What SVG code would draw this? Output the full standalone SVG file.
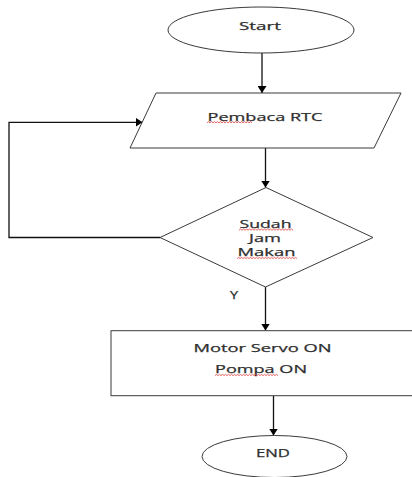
<svg xmlns="http://www.w3.org/2000/svg" width="412" height="477" viewBox="0 0 412 477">
<defs>
<marker id="arr" markerUnits="userSpaceOnUse" markerWidth="7" markerHeight="9" viewBox="0 0 7 9" refX="7" refY="4.5" orient="auto">
<path d="M0,0 L7,4.5 L0,9 z" fill="#000"/>
</marker>
<style>
.shape{fill:#fff;stroke:#3a3a3a;stroke-width:1}
.conn{fill:none;stroke:#111;stroke-width:1.3}
.lbl{font-family:"Open Sans","Liberation Sans",sans-serif;font-size:11.5px;fill:#2e2e2e;stroke:#2e2e2e;stroke-width:0.25;text-anchor:middle}
.wave{fill:none;stroke:#e03a3a;stroke-width:0.8}
</style>
</defs>
<rect width="412" height="477" fill="#fff"/>

<g id="connectors">
<line class="conn" x1="262" y1="53" x2="262" y2="93" marker-end="url(#arr)"/>
<line class="conn" x1="265.5" y1="148" x2="265.5" y2="187.5" marker-end="url(#arr)"/>
<polyline class="conn" points="160,237.5 9,237.5 9,122.3 142.5,122.3" marker-end="url(#arr)"/>
<line class="conn" x1="265.5" y1="287" x2="265.5" y2="330.5" marker-end="url(#arr)"/>
<line class="conn" x1="273.5" y1="396" x2="273.5" y2="435.5" marker-end="url(#arr)"/>
</g>

<g id="start">
<ellipse class="shape" cx="261" cy="30" rx="93" ry="23"/>
<text class="lbl" x="260" y="30" textLength="42" lengthAdjust="spacingAndGlyphs">Start</text>
</g>

<g id="pembaca">
<polygon class="shape" points="156,93 401,93 374,148 130,148"/>
<text class="lbl" x="265" y="120.5" textLength="115" lengthAdjust="spacingAndGlyphs">Pembaca RTC</text>
<path class="wave" d="M207,122.8 l1.5,-1.2l1.5,1.2l1.5,-1.2l1.5,1.2l1.5,-1.2l1.5,1.2l1.5,-1.2l1.5,1.2l1.5,-1.2l1.5,1.2l1.5,-1.2l1.5,1.2l1.5,-1.2l1.5,1.2l1.5,-1.2l1.5,1.2l1.5,-1.2l1.5,1.2l1.5,-1.2l1.5,1.2l1.5,-1.2l1.5,1.2l1.5,-1.2l1.5,1.2l1.5,-1.2l1.5,1.2l1.5,-1.2l1.5,1.2l1.5,-1.2l1.5,1.2"/>
</g>

<g id="decision">
<polygon class="shape" points="266,187.5 373,237.5 265.5,287 160,237.5"/>
<text class="lbl" x="265.5" y="227.5" textLength="52" lengthAdjust="spacingAndGlyphs">Sudah</text>
<path class="wave" d="M239,230.2 l1.5,-1.2l1.5,1.2l1.5,-1.2l1.5,1.2l1.5,-1.2l1.5,1.2l1.5,-1.2l1.5,1.2l1.5,-1.2l1.5,1.2l1.5,-1.2l1.5,1.2l1.5,-1.2l1.5,1.2l1.5,-1.2l1.5,1.2l1.5,-1.2l1.5,1.2l1.5,-1.2l1.5,1.2l1.5,-1.2l1.5,1.2l1.5,-1.2l1.5,1.2l1.5,-1.2l1.5,1.2l1.5,-1.2l1.5,1.2l1.5,-1.2l1.5,1.2l1.5,-1.2l1.5,1.2l1.5,-1.2l1.5,1.2l1.5,-1.2l1.5,1.2"/>
<text class="lbl" x="265" y="241.5" textLength="32" lengthAdjust="spacingAndGlyphs">Jam</text>
<text class="lbl" x="266.5" y="256" textLength="58" lengthAdjust="spacingAndGlyphs">Makan</text>
<path class="wave" d="M237,258.6 l1.5,-1.2l1.5,1.2l1.5,-1.2l1.5,1.2l1.5,-1.2l1.5,1.2l1.5,-1.2l1.5,1.2l1.5,-1.2l1.5,1.2l1.5,-1.2l1.5,1.2l1.5,-1.2l1.5,1.2l1.5,-1.2l1.5,1.2l1.5,-1.2l1.5,1.2l1.5,-1.2l1.5,1.2l1.5,-1.2l1.5,1.2l1.5,-1.2l1.5,1.2l1.5,-1.2l1.5,1.2l1.5,-1.2l1.5,1.2l1.5,-1.2l1.5,1.2l1.5,-1.2l1.5,1.2l1.5,-1.2l1.5,1.2l1.5,-1.2l1.5,1.2l1.5,-1.2l1.5,1.2l1.5,-1.2l1.5,1.2"/>
</g>

<g id="label-y">
<text class="lbl" x="234" y="299" textLength="8" lengthAdjust="spacingAndGlyphs">Y</text>
</g>

<g id="action">
<rect class="shape" x="111" y="330.7" width="305" height="65"/>
<text class="lbl" x="262.5" y="351.5" textLength="138" lengthAdjust="spacingAndGlyphs">Motor Servo ON</text>
<text class="lbl" x="261" y="373" textLength="92" lengthAdjust="spacingAndGlyphs">Pompa ON</text>
<path class="wave" d="M215,375.6 l1.5,-1.2l1.5,1.2l1.5,-1.2l1.5,1.2l1.5,-1.2l1.5,1.2l1.5,-1.2l1.5,1.2l1.5,-1.2l1.5,1.2l1.5,-1.2l1.5,1.2l1.5,-1.2l1.5,1.2l1.5,-1.2l1.5,1.2l1.5,-1.2l1.5,1.2l1.5,-1.2l1.5,1.2l1.5,-1.2l1.5,1.2l1.5,-1.2l1.5,1.2l1.5,-1.2l1.5,1.2l1.5,-1.2l1.5,1.2l1.5,-1.2l1.5,1.2l1.5,-1.2l1.5,1.2l1.5,-1.2l1.5,1.2l1.5,-1.2l1.5,1.2l1.5,-1.2l1.5,1.2l1.5,-1.2l1.5,1.2l1.5,-1.2l1.5,1.2"/>
</g>

<g id="end">
<ellipse class="shape" cx="274.5" cy="456.5" rx="72.5" ry="21"/>
<text class="lbl" x="273" y="456.5" textLength="34" lengthAdjust="spacingAndGlyphs">END</text>
</g>
</svg>
